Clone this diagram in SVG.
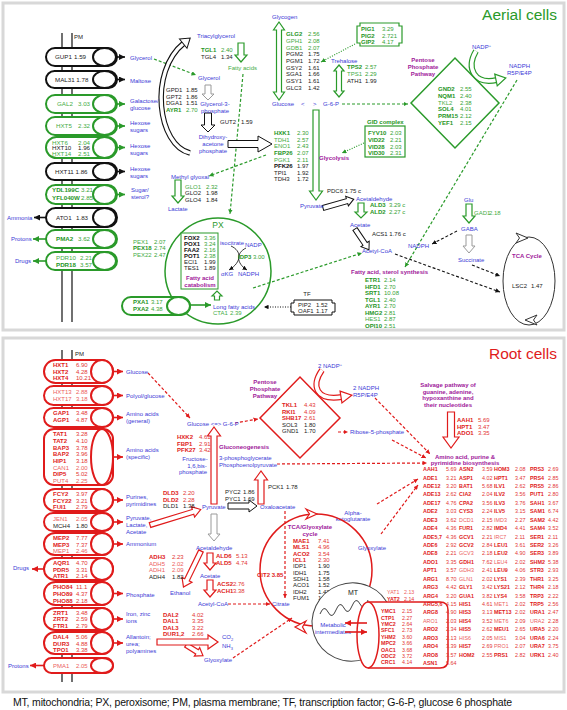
<svg xmlns="http://www.w3.org/2000/svg" width="567" height="710" viewBox="0 0 567 710">
<style>
text{font-family:"Liberation Sans",Arial,Helvetica,sans-serif;font-size:6px}
#amtable text{font-size:5.4px}
#b-carriers text{font-size:5.3px}
.B{fill:#3a3ad6}
.G{fill:#1f961f;font-weight:bold}
.g{fill:#45ad45}
.gn{fill:#36a336}
.R{fill:#e01b1b;font-weight:bold}
.r{fill:#ec6060}
.rn{fill:#e33535}
.K{fill:#222}
.KB{fill:#111;font-weight:bold}
.M{fill:#a0209a;font-weight:bold}
text.p{font-size:6.2px}
.pk{fill:#fff;stroke:#111;stroke-width:2}
.pg{fill:#fff;stroke:#2a9a2a;stroke-width:2}
.pr{fill:#fff;stroke:#e01b1b;stroke-width:2}
.hk{fill:#fff;stroke:#111;stroke-width:1}
.hg{fill:#fff;stroke:#2a9a2a;stroke-width:1.2}
.hr{fill:#fff;stroke:#e01b1b;stroke-width:1.2}
.hy{fill:#fff;stroke:#9a9a9a;stroke-width:1}
.dg{fill:none;stroke:#2a9a2a;stroke-width:1.2;stroke-dasharray:3 2}
.dk{fill:none;stroke:#111;stroke-width:1.1;stroke-dasharray:3 2}
.dr{fill:none;stroke:#e01b1b;stroke-width:1.2;stroke-dasharray:3 2}
.og{fill:none;stroke:#2a9a2a;stroke-width:1.2;stroke-dasharray:1 1.5}
.ok{fill:none;stroke:#111;stroke-width:1.2;stroke-dasharray:1 1.5}
.sk{stroke:#111;stroke-width:1.6}
.sg{stroke:#2a9a2a;stroke-width:1.6}
.sr{stroke:#e01b1b;stroke-width:1.6}
.panel{fill:#fff;stroke:#d8d8d8;stroke-width:3}
</style>
<defs>
<marker id="mk" viewBox="0 0 10 10" refX="10" refY="5" markerWidth="6" markerHeight="6" markerUnits="userSpaceOnUse" orient="auto"><path d="M0,0 L10,5 L0,10 z" fill="#111"/></marker>
<marker id="mg" viewBox="0 0 10 10" refX="10" refY="5" markerWidth="6" markerHeight="6" markerUnits="userSpaceOnUse" orient="auto"><path d="M0,0 L10,5 L0,10 z" fill="#2a9a2a"/></marker>
<marker id="mr" viewBox="0 0 10 10" refX="10" refY="5" markerWidth="6" markerHeight="6" markerUnits="userSpaceOnUse" orient="auto"><path d="M0,0 L10,5 L0,10 z" fill="#e01b1b"/></marker>
<marker id="mks" viewBox="0 0 10 10" refX="10" refY="5" markerWidth="4.5" markerHeight="4.5" markerUnits="userSpaceOnUse" orient="auto"><path d="M0,0 L10,5 L0,10 z" fill="#111"/></marker>
<marker id="mgs" viewBox="0 0 10 10" refX="10" refY="5" markerWidth="4.5" markerHeight="4.5" markerUnits="userSpaceOnUse" orient="auto"><path d="M0,0 L10,5 L0,10 z" fill="#2a9a2a"/></marker>
<marker id="mrs" viewBox="0 0 10 10" refX="10" refY="5" markerWidth="4.5" markerHeight="4.5" markerUnits="userSpaceOnUse" orient="auto"><path d="M0,0 L10,5 L0,10 z" fill="#e01b1b"/></marker>
</defs>
<rect width="567" height="710" fill="#fff"/>
<rect class="panel" x="3" y="3" width="561" height="327"/>
<rect class="panel" x="3" y="338" width="561" height="354"/>
<text x="557" y="19.5" text-anchor="end" style="font-size:15.5px;fill:#2a9a2a">Aerial cells</text>
<text x="557" y="359" text-anchor="end" style="font-size:15.5px;fill:#e01b1b">Root cells</text>

<g id="membrane-top" stroke="#111" stroke-width="1.2">
<line x1="62" y1="33" x2="62" y2="322"/><line x1="72" y1="33" x2="72" y2="322"/>
</g>
<text x="74" y="39" class="K">PM</text>
<g id="membrane-bottom" stroke="#111" stroke-width="1.2">
<line x1="62" y1="350" x2="62" y2="682"/><line x1="72" y1="350" x2="72" y2="682"/>
</g>
<text x="75" y="356" class="K">PM</text>

<g id="connectors">
<line class="sk" x1="108" y1="57" x2="125" y2="57" marker-end="url(#mk)"/>
<line class="sk" x1="108" y1="79.5" x2="125" y2="79.5" marker-end="url(#mk)"/>
<line class="sg" x1="108" y1="104" x2="125" y2="104" marker-end="url(#mg)"/>
<line class="sg" x1="108" y1="126" x2="125" y2="126" marker-end="url(#mg)"/>
<line class="sg" x1="108" y1="147.5" x2="125" y2="147.5" marker-end="url(#mg)"/>
<line class="sk" x1="108" y1="171.5" x2="125" y2="171.5" marker-end="url(#mk)"/>
<line class="sg" x1="108" y1="194.5" x2="125" y2="194.5" marker-end="url(#mg)"/>
<line class="sk" x1="46" y1="217.5" x2="34" y2="217.5" marker-end="url(#mk)"/>
<line class="sg" x1="46" y1="239" x2="33" y2="239" marker-end="url(#mg)"/>
<line class="sg" x1="46" y1="261" x2="33" y2="261" marker-end="url(#mg)"/>
<line class="sg" x1="184" y1="305" x2="211" y2="305" marker-end="url(#mg)"/>
<path class="dg" d="M154,59 L196,75" marker-end="url(#mgs)"/>
<path class="dg" d="M243,74 L230,214" marker-end="url(#mgs)"/>
<path class="dg" d="M266,155 L209,176" marker-end="url(#mgs)"/>
<path class="dg" d="M342,104 L408,104" marker-end="url(#mgs)"/>
<path class="og" d="M355,44 L321,62" marker-end="url(#mgs)"/>
<path class="og" d="M364,143 L342,153" marker-end="url(#mgs)"/>
<path class="dg" d="M517,80 L405,267" marker-end="url(#mgs)"/>
<path class="dg" d="M253,288 L362,253" marker-end="url(#mgs)"/>
<path class="dk" d="M457,231 L432,244" marker-end="url(#mks)"/>
<path class="dk" d="M395,254 L500,292" marker-end="url(#mks)"/>
<path class="dk" d="M472,265 L500,276" marker-end="url(#mks)"/>
<path class="ok" d="M291,307 L264,307" marker-end="url(#mks)"/>
<path d="M231,246 C242,251 242,262 229,270" fill="none" stroke="#222" stroke-width="0.9" marker-end="url(#mks)"/>
<path d="M246,248 C236,253 236,263 247,270" fill="none" stroke="#222" stroke-width="0.9" marker-end="url(#mks)"/>
<polygon class="hg" transform="translate(241,43) rotate(90)" points="0,-3 12,-3 12,-6 19,0 12,6 12,3 0,3"/>
<polygon class="hy" transform="translate(208,85) rotate(90)" points="0,-3 9,-3 9,-6 15,0 9,6 9,3 0,3"/>
<polygon class="hk" transform="translate(208,113) rotate(90)" points="0,-3.5 12,-3.5 12,-7 19,0 12,7 12,3.5 0,3.5"/>
<polygon class="hk" transform="translate(228,144)" points="0,-3.5 30,-3.5 30,-8 44,0 30,8 30,3.5 0,3.5"/>
<polygon class="hg" points="279,22 284.5,30 281.5,30 281.5,92 284.5,92 279,100 273.5,92 276.5,92 276.5,30 273.5,30"/>
<polygon class="hg" points="339,65 344,71 341.5,71 341.5,91 344,91 339,97 334,91 336.5,91 336.5,71 334,71"/>
<polygon class="hg" transform="translate(316,110) rotate(90)" points="0,-3 81,-3 81,-6.5 90,0 81,6.5 81,3 0,3"/>
<polygon class="hk" transform="translate(323,208) rotate(-16)" points="0,-2.5 25,-2.5 25,-5 32,0 25,5 25,2.5 0,2.5"/>
<polygon class="hg" transform="translate(361,203) rotate(90)" points="0,-3 9,-3 9,-6 15,0 9,6 9,3 0,3"/>
<polygon class="hk" transform="translate(355,229) rotate(56)" points="0,-2.5 18,-2.5 18,-5 25,0 18,5 18,2.5 0,2.5"/>
<polygon class="hg" transform="translate(178,180) rotate(90)" points="0,-3 16,-3 16,-6 23,0 16,6 16,3 0,3"/>
<polygon class="hg" transform="translate(469,204) rotate(90)" points="0,-3 12,-3 12,-6 19,0 12,6 12,3 0,3"/>
<polygon class="hy" transform="translate(469,235) rotate(90)" points="0,-3 11,-3 11,-6 18,0 11,6 11,3 0,3"/>
<polygon class="hg" transform="translate(217,300) rotate(-90)" points="0,-2.5 4,-2.5 4,-5 9,0 4,5 4,2.5 0,2.5"/>
<path d="M190,153 C158,146 148,72 184,43" fill="none" stroke="#111" stroke-width="5.5"/>
<path d="M190,153 C158,146 148,72 184,43" fill="none" stroke="#fff" stroke-width="3.3"/>
<polygon class="hk" transform="translate(184,43) rotate(-39)" points="-1,-6 8,0 -1,6"/>
<path d="M476,51 C466,68 474,85 497,80" fill="none" stroke="#2a9a2a" stroke-width="6"/>
<path d="M476,51 C466,68 474,85 497,80" fill="none" stroke="#fff" stroke-width="3.6"/>
<polygon class="hg" transform="translate(496,80) rotate(-12)" points="0,-6 10,0 0,6"/>

<line class="sr" x1="104" y1="371.5" x2="123" y2="371.5" marker-end="url(#mr)"/>
<line class="sr" x1="104" y1="395.5" x2="123" y2="395.5" marker-end="url(#mr)"/>
<line class="sr" x1="104" y1="417.5" x2="123" y2="417.5" marker-end="url(#mr)"/>
<line class="sr" x1="104" y1="457" x2="123" y2="457" marker-end="url(#mr)"/>
<line class="sr" x1="104" y1="500" x2="123" y2="500" marker-end="url(#mr)"/>
<line class="sr" x1="104" y1="522" x2="123" y2="522" marker-end="url(#mr)"/>
<line class="sr" x1="104" y1="544" x2="123" y2="544" marker-end="url(#mr)"/>
<line class="sr" x1="104" y1="593.5" x2="123" y2="593.5" marker-end="url(#mr)"/>
<line class="sr" x1="104" y1="619" x2="123" y2="619" marker-end="url(#mr)"/>
<line class="sr" x1="104" y1="643" x2="123" y2="643" marker-end="url(#mr)"/>
<line class="sr" x1="44" y1="569" x2="32" y2="569" marker-end="url(#mr)"/>
<line class="sr" x1="44" y1="665.5" x2="30" y2="665.5" marker-end="url(#mr)"/>
<path class="dr" d="M148,373 L190,418" marker-end="url(#mrs)"/>
<path class="dr" d="M235,423 L258,419" marker-end="url(#mrs)"/>
<path class="dr" d="M338,432 L348,432" marker-end="url(#mrs)"/>
<path class="dr" d="M277,464 L427,463" marker-end="url(#mrs)"/>
<path class="dr" d="M375,398 L430,454" marker-end="url(#mrs)"/>
<path class="dr" d="M392,440 L426,458" marker-end="url(#mrs)"/>
<path class="dr" d="M377,504 L418,479" marker-end="url(#mrs)"/>
<path class="dr" d="M381,534 L418,485" marker-end="url(#mrs)"/>
<path class="dr" d="M228,604 L270,604" marker-end="url(#mrs)"/>
<path class="dr" d="M233,658 L292,618" marker-end="url(#mrs)"/>
<path class="dr" d="M285,511 L285,598" marker-end="url(#mrs)"/>
<polygon class="hr" transform="translate(214,504) rotate(-90)" points="0,-3 68,-3 68,-6.5 77,0 68,6.5 68,3 0,3"/>
<polygon class="hr" transform="translate(261,504) rotate(-90)" points="0,-3 24,-3 24,-6.5 33,0 24,6.5 24,3 0,3"/>
<polygon class="hk" transform="translate(228,506)" points="0,-3 21,-3 21,-6 29,0 21,6 21,3 0,3"/>
<polygon class="hr" transform="translate(150,525) rotate(-17)" points="0,-2.5 45,-2.5 45,-5.5 53,0 45,5.5 45,2.5 0,2.5"/>
<polygon class="hy" transform="translate(214,514) rotate(90)" points="0,-3 20,-3 20,-6 27,0 20,6 20,3 0,3"/>
<polygon class="hr" transform="translate(210,553) rotate(90)" points="0,-3 10,-3 10,-6 17,0 10,6 10,3 0,3"/>
<polygon class="hr" transform="translate(210,580) rotate(90)" points="0,-3 10,-3 10,-6 17,0 10,6 10,3 0,3"/>
<polygon class="hr" transform="translate(201,551) rotate(116)" points="0,-2.5 32,-2.5 32,-5.5 40,0 32,5.5 32,2.5 0,2.5"/>
<polygon class="hr" transform="translate(186,645) rotate(32)" points="0,-2.5 13,-2.5 13,-5 20,0 13,5 13,2.5 0,2.5"/>
<polygon class="hr" transform="translate(157,642)" points="0,-3 51,-3 51,-7 61,0 51,7 51,3 0,3"/>
<polygon class="hr" transform="translate(451,412) rotate(90)" points="0,-3.5 25,-3.5 25,-8 36,0 25,8 25,3.5 0,3.5"/>
<path d="M322,370 C311,386 316,401 342,397" fill="none" stroke="#e01b1b" stroke-width="6"/>
<path d="M322,370 C311,386 316,401 342,397" fill="none" stroke="#fff" stroke-width="3.6"/>
<polygon class="hr" transform="translate(341,397) rotate(-9)" points="0,-6 11,0 0,6"/>
</g>

<g id="t-gup1"><rect class="pk" x="46" y="48" width="71" height="18" rx="9"/><ellipse class="pk" cx="104.5" cy="57" rx="11.5" ry="9"/><text class="p K" x="55" y="59.3">GUP1<tspan x="74">1.59</tspan></text></g>
<g id="t-mal31"><rect class="pk" x="46" y="71" width="71" height="17" rx="8.5"/><ellipse class="pk" cx="104.5" cy="79.5" rx="11.5" ry="8.5"/><text class="p K" x="55" y="81.8">MAL31 1.78</text></g>
<g id="t-gal2"><rect class="pg" x="46" y="95" width="71" height="18" rx="9"/><ellipse class="pg" cx="104.5" cy="104" rx="11.5" ry="9"/><text class="p g" x="57" y="106.3">GAL2<tspan x="78">3.03</tspan></text></g>
<g id="t-hxt5"><rect class="pg" x="46" y="117" width="71" height="18" rx="9"/><ellipse class="pg" cx="104.5" cy="126" rx="11.5" ry="9"/><text class="p g" x="56" y="128.3">HXT5<tspan x="78">2.32</tspan></text></g>
<g id="t-hxt6"><rect class="pg" x="46" y="137" width="71" height="21" rx="10.5"/><ellipse class="pg" cx="104.5" cy="147.5" rx="11.5" ry="10.5"/><text class="p g" x="52" y="144.6">HXT6<tspan x="78">2.04</tspan></text><text class="p K" x="52" y="150.4">HXT10<tspan x="78">1.96</tspan></text><text class="p g" x="52" y="156.2">HXT14<tspan x="78">2.51</tspan></text></g>
<g id="t-hxt11"><rect class="pk" x="46" y="163" width="71" height="17" rx="8.5"/><ellipse class="pk" cx="104.5" cy="171.5" rx="11.5" ry="8.5"/><text class="p K" x="55" y="173.8">HXT11 1.86</text></g>
<g id="t-ydl"><rect class="pg" x="46" y="185" width="71" height="19" rx="9.5"/><ellipse class="pg" cx="104.5" cy="194.5" rx="11.5" ry="9.5"/><text class="p" x="52" y="192.3"><tspan class="G">YDL199C</tspan><tspan x="81" class="gn">3.21</tspan></text><text class="p" x="52" y="199.6"><tspan class="G">YFL040W</tspan><tspan x="81" class="gn">2.85</tspan></text></g>
<g id="t-ato1"><rect class="pk" x="46" y="208" width="71" height="19" rx="9.5"/><ellipse class="pk" cx="104.5" cy="217.5" rx="11.5" ry="9.5"/><text class="p K" x="56" y="219.8">ATO1<tspan x="76">1.83</tspan></text></g>
<g id="t-pma2"><rect class="pg" x="46" y="230" width="71" height="18" rx="9"/><ellipse class="pg" cx="104.5" cy="239" rx="11.5" ry="9"/><text class="p" x="56" y="241.3"><tspan class="G">PMA2</tspan><tspan x="78" class="gn">3.62</tspan></text></g>
<g id="t-pdr10"><rect class="pg" x="46" y="252" width="71" height="18" rx="9"/><ellipse class="pg" cx="104.5" cy="261" rx="11.5" ry="9"/><text class="p g" x="56" y="260.3">PDR10<tspan x="80">2.21</tspan></text><text class="p" x="56" y="266.8"><tspan class="G">PDR18</tspan><tspan x="80" class="gn">3.57</tspan></text></g>

<g id="t-labels-left">
<text class="B" x="130" y="60.1">Glycerol</text>
<text class="B" x="130" y="83.1">Maltose</text>
<text class="B" x="130" y="103.1">Galactose/</text><text class="B" x="130" y="110.1">glucose</text>
<text class="B" x="130" y="125.1">Hexose</text><text class="B" x="130" y="132.1">sugars</text>
<text class="B" x="130" y="148.1">Hexose</text><text class="B" x="130" y="155.1">sugars</text>
<text class="B" x="130" y="171.1">Hexose</text><text class="B" x="130" y="178.1">sugars</text>
<text class="B" x="131" y="192.1">Sugar/</text><text class="B" x="131" y="199.1">sterol?</text>
<text class="B" x="7" y="220.1">Ammonia</text>
<text class="B" x="11" y="241.1">Protons</text>
<text class="B" x="15" y="263.1">Drugs</text>
</g>

<g id="t-glycerol">
<text class="K" x="166" y="92.1">GPD1<tspan x="186">1.85</tspan></text>
<text class="K" x="166" y="98.6">GPT2<tspan x="186">1.86</tspan></text>
<text class="K" x="166" y="105.1">DGA1<tspan x="186">1.51</tspan></text>
<text x="166" y="111.6"><tspan class="G">AYR1</tspan><tspan x="186" class="gn">2.70</tspan></text>
<text class="B" x="197" y="38.1">Triacylglycerol</text>
<text x="201" y="52.1"><tspan class="G">TGL1</tspan><tspan x="221" class="gn">2.40</tspan></text>
<text class="K" x="201" y="59.1">TGL4<tspan x="221">1.34</tspan></text>
<text class="g" x="228" y="70.1">Fatty acids</text>
<text class="B" x="198" y="80.1">Glycerol</text>
<text class="B" x="215" y="106.1" text-anchor="middle">Glycerol-3-</text>
<text class="B" x="215" y="113.1" text-anchor="middle">phosphate</text>
<text class="K" x="220" y="124.1">GUT2<tspan x="241">1.59</tspan></text>
<text class="B" x="213" y="139.1" text-anchor="middle">Dihydroxy-</text>
<text class="B" x="213" y="146.1" text-anchor="middle">acetone</text>
<text class="B" x="213" y="153.1" text-anchor="middle">phosphate</text>
<text class="B" x="171" y="179.1">Methyl glyoxal</text>
<text x="185" y="189.1"><tspan class="g">GLO1</tspan><tspan x="206" class="gn">2.32</tspan></text>
<text class="K" x="185" y="195.3">GLO2<tspan x="206">1.98</tspan></text>
<text class="K" x="185" y="201.5">GLO4<tspan x="206">1.84</tspan></text>
<text class="B" x="168" y="211.1">Lactate</text>
</g>

<g id="t-glycogen">
<text class="B" x="272" y="19.1">Glycogen</text>
<text x="286" y="36.1"><tspan class="G">GLG2</tspan><tspan x="308" class="gn">2.56</tspan></text>
<text x="286" y="42.8"><tspan class="g">GPH1</tspan><tspan x="308" class="gn">2.08</tspan></text>
<text x="286" y="49.5"><tspan class="g">GDB1</tspan><tspan x="308" class="gn">2.07</tspan></text>
<text class="K" x="286" y="56.2">PGM2<tspan x="308">1.75</tspan></text>
<text class="K" x="286" y="62.9">PGM1<tspan x="308">1.72</tspan></text>
<text class="K" x="286" y="69.6">GSY2<tspan x="308">1.61</tspan></text>
<text class="K" x="286" y="76.3">SGA1<tspan x="308">1.66</tspan></text>
<text class="K" x="286" y="83">GSY1<tspan x="308">1.61</tspan></text>
<text class="K" x="286" y="89.7">GLC3<tspan x="308">1.42</tspan></text>
<text class="B" x="272" y="106.1">Glucose<tspan x="301">&lt;</tspan><tspan x="313">&gt;</tspan><tspan x="323">G-6-P</tspan></text>
</g>

<g id="t-trehalose">
<text class="B" x="331" y="63.1">Trehalose</text>
<text x="347" y="69.1"><tspan class="G">TPS2</tspan><tspan x="365" class="gn">2.57</tspan></text>
<text x="347" y="75.8"><tspan class="g">TPS1</tspan><tspan x="365" class="gn">2.29</tspan></text>
<text class="K" x="347" y="82.5">ATH1<tspan x="365">1.99</tspan></text>
</g>
<g id="t-pig">
<path d="M360,23 H399 V26 H402 V43 H399 V46 H360 V43 H357 V26 H360 Z" fill="#fff" stroke="#2a9a2a" stroke-width="1.2"/>
<text x="361" y="31.1"><tspan class="G">PIG1</tspan><tspan x="382" class="gn">3.29</tspan></text>
<text x="361" y="37.6"><tspan class="G">PIG2</tspan><tspan x="382" class="gn">2.721</tspan></text>
<text x="361" y="44.1"><tspan class="G">GIP2</tspan><tspan x="382" class="gn">4.17</tspan></text>
</g>

<g id="t-glycolysis">
<text x="274" y="135.1"><tspan class="G">HXK1</tspan><tspan x="297" class="gn">2.30</tspan></text>
<text x="274" y="141.7"><tspan class="g">TDH1</tspan><tspan x="297" class="gn">2.57</tspan></text>
<text x="274" y="148.3"><tspan class="g">ENO1</tspan><tspan x="297" class="gn">2.43</tspan></text>
<text x="274" y="154.9"><tspan class="G">FBP26</tspan><tspan x="297" class="gn">2.07</tspan></text>
<text x="274" y="161.5"><tspan class="g">PGK1</tspan><tspan x="297" class="gn">2.11</tspan></text>
<text x="274" y="168.1"><tspan class="KB">PFK26</tspan><tspan x="297" class="K">1.97</tspan></text>
<text class="K" x="274" y="174.7">TPI1<tspan x="297">1.92</tspan></text>
<text class="K" x="274" y="181.3">TDH3<tspan x="297">1.72</tspan></text>
<text class="M" x="319" y="160.1">Glycolysis</text>
</g>

<g id="t-gid">
<text class="G" x="367" y="124.1">GID complex</text>
<rect x="365" y="126" width="40" height="31" fill="#fff" stroke="#2a9a2a" stroke-width="1.2"/>
<text x="368" y="135.1"><tspan class="G">FYV10</tspan><tspan x="390" class="gn">2.03</tspan></text>
<text x="368" y="141.8"><tspan class="G">VID22</tspan><tspan x="390" class="gn">2.21</tspan></text>
<text x="368" y="148.5"><tspan class="G">VID28</tspan><tspan x="390" class="gn">2.03</tspan></text>
<text x="368" y="155.2"><tspan class="G">VID30</tspan><tspan x="390" class="gn">2.31</tspan></text>
</g>

<g id="t-ppp">
<polygon points="411,103 455,58 499,103 455,148" fill="none" stroke="#2a9a2a" stroke-width="1.5"/>
<text class="M" x="423" y="62.1" text-anchor="middle">Pentose</text>
<text class="M" x="423" y="69.1" text-anchor="middle">Phosphate</text>
<text class="M" x="423" y="76.1" text-anchor="middle">Pathway</text>
<text x="438" y="91.1"><tspan class="G">GND2</tspan><tspan x="460" class="gn">2.55</tspan></text>
<text x="438" y="97.8"><tspan class="G">NQM1</tspan><tspan x="460" class="gn">2.40</tspan></text>
<text x="438" y="104.5"><tspan class="g">TKL2</tspan><tspan x="460" class="gn">2.38</tspan></text>
<text x="438" y="111.2"><tspan class="G">SOL4</tspan><tspan x="460" class="gn">4.01</tspan></text>
<text x="438" y="117.9"><tspan class="G">PRM15</tspan><tspan x="460" class="gn">2.12</tspan></text>
<text x="438" y="124.6"><tspan class="G">YEF1</tspan><tspan x="460" class="gn">2.15</tspan></text>
<text class="B" x="472" y="49">NADP<tspan style="font-size:4px" dy="-2.3">+</tspan></text>
<text class="B" x="509" y="68.1">NADPH</text>
<text class="B" x="507" y="75.1">R5P/E4P</text>
</g>

<g id="t-pyruvate">
<text class="B" x="300" y="208.1">Pyruvate</text>
<text class="K" x="327" y="193.1">PDC6 1.75 c</text>
<text class="B" x="356" y="201.1">Acetaldehyde</text>
<text x="370" y="207.1"><tspan class="G">ALD3</tspan><tspan x="389" class="gn">3.29 c</tspan></text>
<text x="370" y="214.1"><tspan class="G">ALD2</tspan><tspan x="389" class="gn">2.27 c</tspan></text>
<text class="B" x="350" y="227.1">Acetate</text>
<text class="K" x="372" y="236.1">ACS1 1.76 c</text>
<text class="B" x="362" y="253.1">Acetyl-CoA</text>
<text class="B" x="408" y="248.1">NADPH</text>
</g>

<g id="t-fasynth">
<text class="M" x="351" y="274.1">Fatty acid, sterol synthesis</text>
<text x="365" y="282.1"><tspan class="G">ETR1</tspan><tspan x="384" class="gn">2.14</tspan></text>
<text x="365" y="288.6"><tspan class="G">HFD1</tspan><tspan x="384" class="gn">2.70</tspan></text>
<text x="365" y="295.1"><tspan class="G">SRT1</tspan><tspan x="384" class="gn">10.08</tspan></text>
<text x="365" y="301.6"><tspan class="G">TGL1</tspan><tspan x="384" class="gn">2.40</tspan></text>
<text x="365" y="308.1"><tspan class="G">AYR1</tspan><tspan x="384" class="gn">2.70</tspan></text>
<text x="365" y="314.6"><tspan class="G">HMG2</tspan><tspan x="384" class="gn">2.81</tspan></text>
<text x="365" y="321.1"><tspan class="g">HES1</tspan><tspan x="384" class="gn">2.87</tspan></text>
<text x="365" y="327.6"><tspan class="G">OPI10</tspan><tspan x="384" class="gn">2.51</tspan></text>
</g>

<g id="t-gaba">
<text class="B" x="464" y="202.1">Glu</text>
<text class="g" x="474" y="215.1">GAD1<tspan x="489">2.18</tspan></text>
<text class="B" x="461" y="231.1">GABA</text>
<text class="B" x="458" y="262.1">Succinate</text>
</g>

<g id="t-tca">
<ellipse cx="529" cy="281" rx="26" ry="44" fill="none" stroke="#333" stroke-width="1"/>
<polygon points="516,233 528,238 516,243 519.5,238" fill="#fff" stroke="#333" stroke-width="1"/>
<polygon points="537,315 525,320 537,325 533.5,320" fill="#fff" stroke="#333" stroke-width="1"/>
<text class="M" x="512" y="258.1">TCA Cycle</text>
<text class="K" x="512" y="288.1">LSC2<tspan x="531">1.47</tspan></text>
</g>

<g id="t-px">
<circle cx="218" cy="271" r="53" fill="none" stroke="#2a9a2a" stroke-width="1.5"/>
<text x="218" y="227.5" text-anchor="middle" style="font-size:8.5px;fill:#2a9a2a">PX</text>
<rect x="181" y="233" width="37" height="56" fill="#fff" stroke="#2a9a2a" stroke-width="1"/>
<text x="184" y="240.1"><tspan class="KB">FOX2</tspan><tspan x="204" class="gn">3.36</tspan></text>
<text x="184" y="246.1"><tspan class="KB">POX1</tspan><tspan x="204" class="gn">3.24</tspan></text>
<text x="184" y="252.1"><tspan class="KB">FAA2</tspan><tspan x="204" class="gn">2.16</tspan></text>
<text x="184" y="258.1"><tspan class="KB">POT1</tspan><tspan x="204" class="gn">2.38</tspan></text>
<text class="K" x="184" y="264.1">ECI1<tspan x="204">1.99</tspan></text>
<text class="K" x="184" y="270.1">TES1<tspan x="204">1.89</tspan></text>
<text class="M" x="200" y="280.1" text-anchor="middle">Fatty acid</text>
<text class="M" x="200" y="286.6" text-anchor="middle">catabolism</text>
<text class="B" x="220" y="245.1">isocitrate</text>
<text class="B" x="245" y="247.1">NADP</text>
<text x="238" y="259.1"><tspan class="G">IDP3</tspan><tspan x="253" class="gn">3.00</tspan></text>
<text class="B" x="221" y="276.1">αKG</text>
<text class="B" x="238" y="276.1">NADPH</text>
<text class="B" x="213" y="309.1">Long fatty acids</text>
<text class="g" x="213" y="315.3">CTA1<tspan x="230">2.39</tspan></text>
</g>
<g id="t-pex">
<text x="133" y="244.1"><tspan class="g">PEX1</tspan><tspan x="154" class="gn">2.07</tspan></text>
<text x="133" y="250.4"><tspan class="G">PEX18</tspan><tspan x="154" class="gn">2.74</tspan></text>
<text x="133" y="256.7"><tspan class="g">PEX22</tspan><tspan x="154" class="gn">2.47</tspan></text>
</g>
<g id="t-pxa"><rect class="pg" x="122" y="297" width="68" height="18" rx="9"/><ellipse class="pg" cx="178.5" cy="306" rx="11.5" ry="9"/><text x="133" y="304.3"><tspan class="G">PXA1</tspan><tspan x="151" class="gn">3.17</tspan></text><text x="133" y="311"><tspan class="G">PXA2</tspan><tspan x="151" class="gn">4.38</tspan></text></g>
<g id="t-tf">
<text class="K" x="307" y="296.1" text-anchor="middle">TF</text>
<path d="M294,300 H332 V303 H335 V312 H332 V315 H294 V312 H291 V303 H294 Z" fill="#fff" stroke="#111" stroke-width="1"/>
<text class="K" x="298" y="307.1">PIP2<tspan x="316">1.52</tspan></text>
<text class="K" x="298" y="313.3">OAF1<tspan x="316">1.17</tspan></text>
</g>

<g id="b-hxt1"><rect class="pr" x="44" y="360" width="69" height="23" rx="11.5"/><ellipse class="pr" cx="102" cy="371.5" rx="11" ry="11.5"/>
<text x="53" y="367.1"><tspan class="R">HXT1</tspan><tspan x="76" class="rn">6.90</tspan></text>
<text x="53" y="373.6"><tspan class="R">HXT2</tspan><tspan x="76" class="rn">4.28</tspan></text>
<text x="53" y="380.1"><tspan class="R">HXT4</tspan><tspan x="76" class="rn">10.21</tspan></text></g>
<g id="b-hxt13"><rect class="pr" x="44" y="386" width="69" height="19" rx="9.5"/><ellipse class="pr" cx="102" cy="395.5" rx="11" ry="9.5"/>
<text class="r" x="53" y="394.1">HXT13<tspan x="76">2.88</tspan></text>
<text class="r" x="53" y="400.6">HXT17<tspan x="76">3.18</tspan></text></g>
<g id="b-gap1"><rect class="pr" x="44" y="408" width="69" height="19" rx="9.5"/><ellipse class="pr" cx="102" cy="417.5" rx="11" ry="9.5"/>
<text x="53" y="415.1"><tspan class="R">GAP1</tspan><tspan x="76" class="rn">3.48</tspan></text>
<text x="53" y="422.1"><tspan class="R">AGP1</tspan><tspan x="76" class="rn">4.87</tspan></text></g>
<g id="b-tat"><rect class="pr" x="44" y="429" width="69" height="56" rx="10"/><ellipse class="pr" cx="102" cy="457" rx="11" ry="28"/>
<text x="53" y="436.1"><tspan class="R">TAT1</tspan><tspan x="76" class="rn">3.28</tspan></text>
<text x="53" y="442.8"><tspan class="R">TAT2</tspan><tspan x="76" class="rn">4.10</tspan></text>
<text x="53" y="449.5"><tspan class="R">BAP3</tspan><tspan x="76" class="rn">3.78</tspan></text>
<text x="53" y="456.2"><tspan class="R">BAP2</tspan><tspan x="76" class="rn">3.96</tspan></text>
<text x="53" y="462.9"><tspan class="R">HIP1</tspan><tspan x="76" class="rn">3.18</tspan></text>
<text class="r" x="53" y="469.6">CAN1<tspan x="76">2.00</tspan></text>
<text x="53" y="476.3"><tspan class="R">DIP5</tspan><tspan x="76" class="rn">5.02</tspan></text>
<text class="r" x="53" y="483">PUT4<tspan x="76">2.25</tspan></text></g>
<g id="b-fcy2"><rect class="pr" x="44" y="489" width="69" height="22" rx="11"/><ellipse class="pr" cx="102" cy="500" rx="11" ry="11"/>
<text x="53" y="496.1"><tspan class="R">FCY2</tspan><tspan x="76" class="rn">3.97</tspan></text>
<text x="53" y="502.6"><tspan class="R">FCY22</tspan><tspan x="76" class="rn">3.21</tspan></text>
<text x="53" y="509.1"><tspan class="R">FUI1</tspan><tspan x="76" class="rn">2.79</tspan></text></g>
<g id="b-jen1"><rect class="pr" x="44" y="513" width="69" height="18" rx="9"/><ellipse class="pr" cx="102" cy="522" rx="11" ry="9"/>
<text class="r" x="53" y="521.1">JEN1<tspan x="76">2.05</tspan></text>
<text class="K" x="53" y="527.6">MCH4<tspan x="76">1.80</tspan></text></g>
<g id="b-mep2"><rect class="pr" x="44" y="533" width="69" height="22" rx="11"/><ellipse class="pr" cx="102" cy="544" rx="11" ry="11"/>
<text x="53" y="540.1"><tspan class="R">MEP2</tspan><tspan x="76" class="rn">7.77</tspan></text>
<text x="53" y="546.6"><tspan class="R">MEP3</tspan><tspan x="76" class="rn">7.37</tspan></text>
<text class="r" x="53" y="553.1">MEP1<tspan x="76">2.46</tspan></text></g>
<g id="b-aqr1"><rect class="pr" x="44" y="558" width="69" height="22" rx="11"/><ellipse class="pr" cx="102" cy="569" rx="11" ry="11"/>
<text x="53" y="565.1"><tspan class="R">AQR1</tspan><tspan x="76" class="rn">4.70</tspan></text>
<text x="53" y="571.6"><tspan class="R">PDR5</tspan><tspan x="76" class="rn">3.31</tspan></text>
<text x="53" y="578.1"><tspan class="R">ATR1</tspan><tspan x="76" class="rn">2.14</tspan></text></g>
<g id="b-pho84"><rect class="pr" x="44" y="582" width="69" height="23" rx="11.5"/><ellipse class="pr" cx="102" cy="593.5" rx="11" ry="11.5"/>
<text x="53" y="589.1"><tspan class="R">PHO84</tspan><tspan x="76" class="rn">11.1</tspan></text>
<text x="53" y="595.8"><tspan class="R">PHO89</tspan><tspan x="76" class="rn">4.37</tspan></text>
<text x="53" y="602.5"><tspan class="R">PHO88</tspan><tspan x="76" class="rn">2.18</tspan></text></g>
<g id="b-zrt1"><rect class="pr" x="44" y="608" width="69" height="22" rx="11"/><ellipse class="pr" cx="102" cy="619" rx="11" ry="11"/>
<text x="53" y="614.6"><tspan class="R">ZRT1</tspan><tspan x="76" class="rn">3.48</tspan></text>
<text x="53" y="621.1"><tspan class="R">ZRT2</tspan><tspan x="76" class="rn">2.59</tspan></text>
<text x="53" y="627.6"><tspan class="R">FTR1</tspan><tspan x="76" class="rn">2.79</tspan></text></g>
<g id="b-dal4"><rect class="pr" x="44" y="632" width="69" height="22" rx="11"/><ellipse class="pr" cx="102" cy="643" rx="11" ry="11"/>
<text x="53" y="639.1"><tspan class="R">DAL4</tspan><tspan x="76" class="rn">5.06</tspan></text>
<text x="53" y="645.6"><tspan class="R">DUR3</tspan><tspan x="76" class="rn">4.88</tspan></text>
<text x="53" y="652.1"><tspan class="R">TPO1</tspan><tspan x="76" class="rn">3.38</tspan></text></g>
<g id="b-pma1"><rect class="pr" x="44" y="658" width="69" height="15" rx="7.5"/><ellipse class="pr" cx="102" cy="665.5" rx="11" ry="7.5"/>
<text class="r" x="53" y="667.8">PMA1<tspan x="76">2.05</tspan></text></g>

<g id="b-labels-left">
<text class="B" x="126" y="374.1">Glucose</text>
<text class="B" x="126" y="398.1">Polyol/glucose</text>
<text class="B" x="126" y="416.1">Amino acids</text><text class="B" x="126" y="423.1">(general)</text>
<text class="B" x="126" y="452.1">Amino acids</text><text class="B" x="126" y="459.1">(specific)</text>
<text class="B" x="126" y="499.1">Purines,</text><text class="B" x="126" y="506.1">pyrimidines</text>
<text class="B" x="126" y="520.1">Pyruvate,</text><text class="B" x="126" y="527.1">Lactate,</text><text class="B" x="126" y="534.1">Acetate</text>
<text class="B" x="126" y="546.1">Ammonium</text>
<text class="B" x="126" y="597.1">Phosphate</text>
<text class="B" x="126" y="616.1">Iron, zinc</text><text class="B" x="126" y="623.1">ions</text>
<text class="B" x="126" y="639.1">Allantoin;</text><text class="B" x="126" y="646.1">urea;</text><text class="B" x="126" y="653.1">polyamines</text>
<text class="B" x="13" y="570.1">Drugs</text>
<text class="B" x="8" y="667.6">Protons</text>
</g>

<g id="b-glycolysis">
<text class="B" x="187" y="426.1">Glucose &lt;=&gt; G-6-P</text>
<text x="177" y="439.1"><tspan class="R">HXK2</tspan><tspan x="199" class="rn">4.61</tspan></text>
<text x="177" y="445.6"><tspan class="R">FBP1</tspan><tspan x="199" class="rn">2.91</tspan></text>
<text x="177" y="452.1"><tspan class="R">PFK27</tspan><tspan x="199" class="rn">3.42</tspan></text>
<text class="M" x="219" y="449.1">Gluconeogenesis</text>
<text class="B" x="195" y="461.1" text-anchor="middle">Fructose-</text>
<text class="B" x="197" y="467.6" text-anchor="middle">1,6,bis-</text>
<text class="B" x="193" y="474.1" text-anchor="middle">phosphate</text>
<text class="B" x="219" y="460.1">3-phosphoglycerate</text>
<text class="B" x="219" y="467.1">Phosphoenolpyruvate</text>
<text class="K" x="268" y="489.1">PCK1<tspan x="286">1.78</tspan></text>
<text class="K" x="225" y="494.1">PYC2<tspan x="243">1.86</tspan></text>
<text class="K" x="225" y="500.6">PYC1<tspan x="243">1.69</tspan></text>
<text x="163" y="495.1"><tspan class="R">DLD3</tspan><tspan x="183" class="rn">2.20</tspan></text>
<text x="163" y="501.6"><tspan class="R">DLD2</tspan><tspan x="183" class="rn">2.28</tspan></text>
<text class="K" x="163" y="508.1">DLD1<tspan x="183">1.38</tspan></text>
<text class="B" x="202" y="509.1">Pyruvate</text>
<text class="B" x="260" y="509.1">Oxaloacetate</text>
<text class="B" x="353" y="515.1" text-anchor="middle">Alpha-</text>
<text class="B" x="353" y="521.1" text-anchor="middle">ketoglutarate</text>
</g>

<g id="b-ppp">
<polygon points="260,418 300,377 340,418 300,458" fill="none" stroke="#e01b1b" stroke-width="1.5"/>
<text class="M" x="265" y="384.1" text-anchor="middle">Pentose</text>
<text class="M" x="265" y="391.1" text-anchor="middle">Phosphate</text>
<text class="M" x="265" y="398.1" text-anchor="middle">Pathway</text>
<text x="282" y="407.1"><tspan class="R">TKL1</tspan><tspan x="304" class="rn">4.43</tspan></text>
<text x="282" y="413.6"><tspan class="R">RKI1</tspan><tspan x="304" class="rn">4.09</tspan></text>
<text x="282" y="420.1"><tspan class="R">SHB17</tspan><tspan x="304" class="rn">2.61</tspan></text>
<text class="K" x="282" y="426.6">SOL3<tspan x="304">1.80</tspan></text>
<text class="K" x="282" y="433.1">GND1<tspan x="304">1.70</tspan></text>
<text class="B" x="318" y="368.1">2 NADP<tspan style="font-size:4px" dy="-2.3">+</tspan></text>
<text class="B" x="353" y="390.1">2 NADPH</text>
<text class="B" x="353" y="397.1">R5P/E4P</text>
<text class="B" x="350" y="434.1">Ribose-5-phosphate</text>
</g>

<g id="b-ethanol">
<text class="B" x="196" y="550.1">Acetaldehyde</text>
<text x="216" y="558.1"><tspan class="R">ALD6</tspan><tspan x="236" class="rn">5.13</tspan></text>
<text x="216" y="565.1"><tspan class="R">ALD5</tspan><tspan x="236" class="rn">4.74</tspan></text>
<text x="149" y="559.1"><tspan class="R">ADH3</tspan><tspan x="172" class="rn">2.23</tspan></text>
<text class="r" x="149" y="565.6">ADH5<tspan x="172">2.02</tspan></text>
<text class="r" x="149" y="572.1">ADH1<tspan x="172">2.09</tspan></text>
<text class="K" x="149" y="578.6">ADH4<tspan x="172">1.82</tspan></text>
<text class="B" x="170" y="595.1">Ethanol</text>
<text class="B" x="200" y="578.1">Acetate</text>
<text x="217" y="586.1"><tspan class="R">ACS2</tspan><tspan x="233" class="rn">2.76</tspan></text>
<text x="217" y="593.1"><tspan class="R">ACH1</tspan><tspan x="233" class="rn">3.38</tspan></text>
<text class="B" x="198" y="606.1">Acetyl-CoA</text>
<text class="B" x="272" y="606.1">Citrate</text>
<text x="163" y="617.1"><tspan class="R">DAL2</tspan><tspan x="192" class="rn">4.02</tspan></text>
<text x="163" y="623.4"><tspan class="R">DAL1</tspan><tspan x="192" class="rn">3.35</tspan></text>
<text x="163" y="629.7"><tspan class="R">DAL3</tspan><tspan x="192" class="rn">3.22</tspan></text>
<text x="163" y="636"><tspan class="R">DUR1,2</tspan><tspan x="192" class="rn">2.66</tspan></text>
<text class="B" x="222" y="639.1">CO<tspan style="font-size:4px" dy="1.5">2</tspan></text>
<text class="B" x="222" y="648.1">NH<tspan style="font-size:4px" dy="1.5">3</tspan></text>
<text class="B" x="204" y="662.1">Glyoxylate</text>
</g>

<g id="b-tca">
<circle cx="316" cy="570" r="56" fill="none" stroke="#e01b1b" stroke-width="1.5"/>
<polygon points="306,509 317,514 306,519 309.5,514" fill="#fff" stroke="#e01b1b" stroke-width="1.2"/>
<text class="M" x="310" y="529.1" text-anchor="middle">TCA/Glyoxylate</text>
<text class="M" x="310" y="535.6" text-anchor="middle">cycle</text>
<text x="293" y="543.1"><tspan class="R">MAE1</tspan><tspan x="318" class="rn">7.41</tspan></text>
<text x="293" y="549.4"><tspan class="R">MLS1</tspan><tspan x="318" class="rn">4.96</tspan></text>
<text x="293" y="555.7"><tspan class="R">ACO2</tspan><tspan x="318" class="rn">3.54</tspan></text>
<text x="293" y="562"><tspan class="R">ICL1</tspan><tspan x="318" class="rn">2.30</tspan></text>
<text class="K" x="293" y="568.3">IDP1<tspan x="318">1.90</tspan></text>
<text class="K" x="293" y="574.6">IDH1<tspan x="318">1.75</tspan></text>
<text class="K" x="293" y="580.9">SDH1<tspan x="318">1.58</tspan></text>
<text class="K" x="293" y="587.2">ACO1<tspan x="318">1.52</tspan></text>
<text class="K" x="293" y="593.5">IDH2<tspan x="318">1.47</tspan></text>
<text class="K" x="293" y="599.8">FUM1<tspan x="318">1.37</tspan></text>
<text x="257" y="577.1"><tspan class="R">CIT2 3.85</tspan></text>
<text class="B" x="358" y="550.1">Glyoxylate</text>
</g>

<g id="b-mt">
<ellipse cx="352" cy="622" rx="40" ry="39" transform="rotate(-20 352 622)" fill="#fff" stroke="#444" stroke-width="1"/>
<polygon points="306,621 295,627 306,633 302.5,627" fill="#fff" stroke="#e01b1b" stroke-width="1.2"/>
<path d="M320,614 q4,-10 8,-2 q4,8 8,-2 q4,-10 8,-2 q4,8 8,-2 q4,-10 8,-2 q4,8 8,-4" fill="none" stroke="#444" stroke-width="1"/>
<text x="348" y="595" style="font-size:7px;fill:#222">MT</text>
<text class="B" x="333" y="627.1" text-anchor="middle">Metabolic</text>
<text class="B" x="333" y="634.1" text-anchor="middle">intermediates</text>
</g>

<g id="b-carriers">
<path d="M368,602 H440 Q448,602 448,610 V660 Q448,668 440,668 H368" fill="#fff" stroke="#e01b1b" stroke-width="1.5"/>
<ellipse cx="368" cy="635" rx="11" ry="33" fill="#fff" stroke="#e01b1b" stroke-width="1.5"/>
<line x1="367" y1="623" x2="345" y2="623" stroke="#e01b1b" stroke-width="1.6" marker-end="url(#mr)"/>
<line x1="345" y1="632" x2="367" y2="632" stroke="#e01b1b" stroke-width="1.6" marker-end="url(#mr)"/>
<text x="381" y="613.1"><tspan class="R">YMC1</tspan><tspan x="402" class="rn">2.15</tspan></text>
<text x="381" y="619.5"><tspan class="R">CTP1</tspan><tspan x="402" class="rn">2.27</tspan></text>
<text x="381" y="625.9"><tspan class="R">YMC2</tspan><tspan x="402" class="rn">2.64</tspan></text>
<text x="381" y="632.3"><tspan class="R">SFC1</tspan><tspan x="402" class="rn">2.73</tspan></text>
<text x="381" y="638.7"><tspan class="R">YHM2</tspan><tspan x="402" class="rn">3.60</tspan></text>
<text x="381" y="645.1"><tspan class="R">MPC2</tspan><tspan x="402" class="rn">3.66</tspan></text>
<text x="381" y="651.5"><tspan class="R">OAC1</tspan><tspan x="402" class="rn">3.68</tspan></text>
<text x="381" y="657.9"><tspan class="R">ODC2</tspan><tspan x="402" class="rn">3.72</tspan></text>
<text x="381" y="664.3"><tspan class="R">CRC1</tspan><tspan x="402" class="rn">4.14</tspan></text>
<text class="r" x="387" y="594.1">YAT1<tspan x="404">2.13</tspan></text>
<text x="387" y="601.1"><tspan class="R">YAT2</tspan><tspan x="404" class="rn">2.14</tspan></text>
</g>

<g id="b-salvage">
<text class="M" x="448" y="387.1" text-anchor="middle">Salvage pathway of</text>
<text class="M" x="448" y="393.6" text-anchor="middle">guanine, adenine,</text>
<text class="M" x="448" y="400.1" text-anchor="middle">hypoxanthine and</text>
<text class="M" x="448" y="406.6" text-anchor="middle">their nucleotides</text>
<text x="457" y="422.1"><tspan class="R">AAH1</tspan><tspan x="478" class="rn">5.69</tspan></text>
<text x="457" y="428.6"><tspan class="R">HPT1</tspan><tspan x="478" class="rn">3.47</tspan></text>
<text x="457" y="435.1"><tspan class="R">ADO1</tspan><tspan x="478" class="rn">3.35</tspan></text>
</g>

<g id="b-aminoacid">
<text class="M" x="465" y="459.1" text-anchor="middle">Amino acid, purine &amp;</text>
<text class="M" x="465" y="465.3" text-anchor="middle">pyrimidine biosynthesis</text>
<g id="amtable">
<text y="471.1"><tspan x="423" class="R">AAH1</tspan><tspan x="446" class="rn">5.69</tspan><tspan x="459" class="R">ASN2</tspan><tspan x="482" class="rn">3.59</tspan><tspan x="494" class="R">HOM3</tspan><tspan x="515" class="rn">2.08</tspan><tspan x="530" class="R">PRS3</tspan><tspan x="548" class="rn">2.69</tspan></text>
<text y="479.5"><tspan x="423" class="R">ADE1</tspan><tspan x="446" class="rn">3.21</tspan><tspan x="459" class="R">ASP1</tspan><tspan x="482" class="rn">4.02</tspan><tspan x="494" class="R">HPT1</tspan><tspan x="515" class="rn">3.47</tspan><tspan x="530" class="R">PRS4</tspan><tspan x="548" class="rn">2.85</tspan></text>
<text y="488"><tspan x="423" class="R">ADE12</tspan><tspan x="446" class="rn">3.20</tspan><tspan x="459" class="R">BAT1</tspan><tspan x="482" class="rn">5.68</tspan><tspan x="494" class="R">ILV1</tspan><tspan x="515" class="rn">2.62</tspan><tspan x="530" class="R">PRS5</tspan><tspan x="548" class="rn">2.86</tspan></text>
<text y="496.4"><tspan x="423" class="R">ADE13</tspan><tspan x="446" class="rn">2.62</tspan><tspan x="459" class="R">CIA2</tspan><tspan x="482" class="rn">2.04</tspan><tspan x="494" class="R">ILV2</tspan><tspan x="515" class="rn">3.56</tspan><tspan x="530" class="R">PUT1</tspan><tspan x="548" class="rn">2.80</tspan></text>
<text y="504.8"><tspan x="423" class="R">ADE17</tspan><tspan x="446" class="rn">4.76</tspan><tspan x="459" class="R">CPA2</tspan><tspan x="482" class="rn">3.56</tspan><tspan x="494" class="R">ILV3</tspan><tspan x="515" class="rn">3.76</tspan><tspan x="530" class="R">SAH1</tspan><tspan x="548" class="rn">3.67</tspan></text>
<text y="513.3"><tspan x="423" class="R">ADE2</tspan><tspan x="446" class="rn">3.03</tspan><tspan x="459" class="R">CYS3</tspan><tspan x="482" class="rn">2.24</tspan><tspan x="494" class="R">ILV5</tspan><tspan x="515" class="rn">3.15</tspan><tspan x="530" class="R">SAM1</tspan><tspan x="548" class="rn">6.74</tspan></text>
<text y="521.7"><tspan x="423" class="R">ADE3</tspan><tspan x="446" class="rn">3.62</tspan><tspan x="459" class="r">DCD1</tspan><tspan x="482" class="rn">2.15</tspan><tspan x="494" class="r">IMD3</tspan><tspan x="515" class="rn">2.27</tspan><tspan x="530" class="R">SAM2</tspan><tspan x="548" class="rn">4.42</tspan></text>
<text y="530.1"><tspan x="423" class="R">ADE4</tspan><tspan x="446" class="rn">4.36</tspan><tspan x="459" class="R">FUR1</tspan><tspan x="482" class="rn">2.82</tspan><tspan x="494" class="R">IMD4</tspan><tspan x="515" class="rn">4.41</tspan><tspan x="530" class="R">SAM4</tspan><tspan x="548" class="rn">3.52</tspan></text>
<text y="538.5"><tspan x="423" class="R">ADE5,7</tspan><tspan x="446" class="rn">4.36</tspan><tspan x="459" class="R">GCV1</tspan><tspan x="482" class="rn">2.21</tspan><tspan x="494" class="r">IRC7</tspan><tspan x="515" class="rn">2.11</tspan><tspan x="530" class="R">SER1</tspan><tspan x="548" class="rn">2.11</tspan></text>
<text y="547"><tspan x="423" class="R">ADE6</tspan><tspan x="446" class="rn">2.92</tspan><tspan x="459" class="R">GCV2</tspan><tspan x="482" class="rn">2.84</tspan><tspan x="494" class="R">LEU1</tspan><tspan x="515" class="rn">3.61</tspan><tspan x="530" class="R">SER2</tspan><tspan x="548" class="rn">3.26</tspan></text>
<text y="555.4"><tspan x="423" class="R">ADE8</tspan><tspan x="446" class="rn">2.21</tspan><tspan x="459" class="r">GCV3</tspan><tspan x="482" class="rn">2.18</tspan><tspan x="494" class="R">LEU2</tspan><tspan x="515" class="rn">4.90</tspan><tspan x="530" class="R">SER3</tspan><tspan x="548" class="rn">3.89</tspan></text>
<text y="563.8"><tspan x="423" class="R">ADO1</tspan><tspan x="446" class="rn">3.35</tspan><tspan x="459" class="R">GDH1</tspan><tspan x="482" class="rn">7.62</tspan><tspan x="494" class="r">LEU4</tspan><tspan x="515" class="rn">2.02</tspan><tspan x="530" class="R">SHM2</tspan><tspan x="548" class="rn">5.38</tspan></text>
<text y="572.3"><tspan x="423" class="R">APT1</tspan><tspan x="446" class="rn">3.57</tspan><tspan x="459" class="r">GDH3</tspan><tspan x="482" class="rn">2.41</tspan><tspan x="494" class="R">LEU9</tspan><tspan x="515" class="rn">4.06</tspan><tspan x="530" class="R">STR3</tspan><tspan x="548" class="rn">2.93</tspan></text>
<text y="580.7"><tspan x="423" class="R">ARG1</tspan><tspan x="446" class="rn">8.70</tspan><tspan x="459" class="r">GLN1</tspan><tspan x="482" class="rn">2.02</tspan><tspan x="494" class="R">LYS1</tspan><tspan x="515" class="rn">2.39</tspan><tspan x="530" class="R">THR1</tspan><tspan x="548" class="rn">3.25</tspan></text>
<text y="589.1"><tspan x="423" class="R">ARG3</tspan><tspan x="446" class="rn">4.42</tspan><tspan x="459" class="R">GLY1</tspan><tspan x="482" class="rn">3.42</tspan><tspan x="494" class="R">LYS21</tspan><tspan x="515" class="rn">2.12</tspan><tspan x="530" class="R">THR4</tspan><tspan x="548" class="rn">2.18</tspan></text>
<text y="597.6"><tspan x="423" class="R">ARG4</tspan><tspan x="446" class="rn">3.20</tspan><tspan x="459" class="R">GUA1</tspan><tspan x="482" class="rn">3.82</tspan><tspan x="494" class="R">LYS4</tspan><tspan x="515" class="rn">3.58</tspan><tspan x="530" class="R">TRP3</tspan><tspan x="548" class="rn">2.22</tspan></text>
<text y="606"><tspan x="423" class="R">ARG5,6</tspan><tspan x="446" class="rn">4.15</tspan><tspan x="459" class="R">HIS1</tspan><tspan x="482" class="rn">4.61</tspan><tspan x="494" class="r">MET1</tspan><tspan x="515" class="rn">2.02</tspan><tspan x="530" class="R">TRP5</tspan><tspan x="548" class="rn">2.56</tspan></text>
<text y="614.4"><tspan x="423" class="R">ARG8</tspan><tspan x="446" class="rn">4.90</tspan><tspan x="459" class="R">HIS3</tspan><tspan x="482" class="rn">3.13</tspan><tspan x="494" class="R">MET13</tspan><tspan x="515" class="rn">2.02</tspan><tspan x="530" class="R">URA1</tspan><tspan x="548" class="rn">2.47</tspan></text>
<text y="622.8"><tspan x="423" class="r">ARO1</tspan><tspan x="446" class="rn">2.03</tspan><tspan x="459" class="R">HIS4</tspan><tspan x="482" class="rn">3.52</tspan><tspan x="494" class="r">MET6</tspan><tspan x="515" class="rn">2.09</tspan><tspan x="530" class="r">URA2</tspan><tspan x="548" class="rn">2.28</tspan></text>
<text y="631.3"><tspan x="423" class="R">ARO2</tspan><tspan x="446" class="rn">2.34</tspan><tspan x="459" class="R">HIS5</tspan><tspan x="482" class="rn">2.62</tspan><tspan x="494" class="R">MEU1</tspan><tspan x="515" class="rn">2.65</tspan><tspan x="530" class="R">URA5</tspan><tspan x="548" class="rn">2.20</tspan></text>
<text y="639.7"><tspan x="423" class="R">ARO3</tspan><tspan x="446" class="rn">2.13</tspan><tspan x="459" class="r">HIS6</tspan><tspan x="482" class="rn">2.05</tspan><tspan x="494" class="r">MIS1</tspan><tspan x="515" class="rn">3.04</tspan><tspan x="530" class="R">URA6</tspan><tspan x="548" class="rn">2.24</tspan></text>
<text y="648.1"><tspan x="423" class="R">ARO4</tspan><tspan x="446" class="rn">3.39</tspan><tspan x="459" class="R">HIS7</tspan><tspan x="482" class="rn">2.69</tspan><tspan x="494" class="r">PRO1</tspan><tspan x="515" class="rn">2.07</tspan><tspan x="530" class="R">URA7</tspan><tspan x="548" class="rn">3.75</tspan></text>
<text y="656.6"><tspan x="423" class="R">ARO8</tspan><tspan x="446" class="rn">3.57</tspan><tspan x="459" class="R">HOM2</tspan><tspan x="482" class="rn">2.55</tspan><tspan x="494" class="R">PRS1</tspan><tspan x="515" class="rn">2.82</tspan><tspan x="530" class="R">URK1</tspan><tspan x="548" class="rn">2.40</tspan></text>
<text y="665"><tspan x="423" class="R">ASN1</tspan><tspan x="446" class="rn">5.64</tspan></text>
</g>
</g>

<text x="13" y="706" style="font-size:10.5px;fill:#111" textLength="499" lengthAdjust="spacing">MT, mitochondria; PX, peroxisome; PM, plasma membrane; TF, transcription factor; G-6-P, glucose 6 phosphate</text>
</svg>
